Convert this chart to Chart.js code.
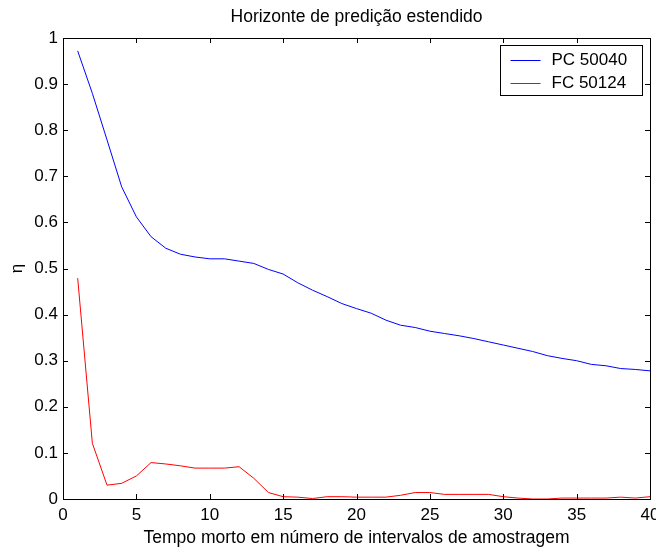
<!DOCTYPE html>
<html>
<head>
<meta charset="utf-8">
<script src="https://cdn.jsdelivr.net/npm/chart.js@4"></script>
<style>
  body { margin: 0; background: #fff; }
  #wrap { width: 656px; height: 549px; }
</style>
</head>
<body>
<div id="wrap"><canvas id="chart"></canvas></div>
<script>
// Dados
const delays = [1, 2, 3, 4, 5, 6, 7, 8, 9, 10, 11, 12, 13, 14, 15, 16, 17, 18, 19, 20,
  21, 22, 23, 24, 25, 26, 27, 28, 29, 30, 31, 32, 33, 34, 35, 36, 37, 38, 39, 40];
const pc50040 = [0.972, 0.880, 0.779, 0.677, 0.612, 0.569, 0.544, 0.531, 0.525, 0.521,
  0.521, 0.516, 0.511, 0.498, 0.488, 0.469, 0.453, 0.439, 0.424, 0.413,
  0.403, 0.388, 0.377, 0.372, 0.364, 0.359, 0.354, 0.348, 0.341, 0.334,
  0.327, 0.320, 0.311, 0.305, 0.300, 0.292, 0.289, 0.283, 0.281, 0.278];
const fc50124 = [0.479, 0.121, 0.030, 0.034, 0.050, 0.079, 0.076, 0.072, 0.067, 0.067,
  0.067, 0.070, 0.045, 0.014, 0.005, 0.004, 0.001, 0.005, 0.005, 0.004,
  0.004, 0.004, 0.008, 0.014, 0.014, 0.010, 0.010, 0.010, 0.010, 0.005,
  0.002, 0.000, 0.000, 0.002, 0.002, 0.002, 0.002, 0.004, 0.002, 0.005];
const seriesNames = ["PC 50040", "FC 50124"];
const seriesColors = ["#0000ff", "#ff0000"];
const chartTitle = "Horizonte de predição estendido";

const FONT = "'Liberation Sans', Arial, sans-serif";

// moldura, marcas para dentro (estilo MATLAB), titulo e legenda
const boxPlugin = {
  id: "box",
  afterDraw(chart) {
    const { ctx, chartArea: a, scales } = chart;
    ctx.save();
    ctx.strokeStyle = "#000";
    ctx.lineWidth = 1;
    ctx.beginPath();
    scales.x.ticks.forEach((t) => {
      const px = Math.round(scales.x.getPixelForValue(t.value)) + 0.5;
      ctx.moveTo(px, a.bottom); ctx.lineTo(px, a.bottom - 5);
      ctx.moveTo(px, a.top); ctx.lineTo(px, a.top + 5);
    });
    scales.y.ticks.forEach((t) => {
      const py = Math.round(scales.y.getPixelForValue(t.value)) + 0.5;
      ctx.moveTo(a.left, py); ctx.lineTo(a.left + 5, py);
      ctx.moveTo(a.right, py); ctx.lineTo(a.right - 5, py);
    });
    ctx.stroke();
    ctx.strokeRect(Math.round(a.left) + 0.5, Math.round(a.top) + 0.5,
      Math.round(a.right - a.left), Math.round(a.bottom - a.top));

    // titulo centrado sobre os eixos
    ctx.fillStyle = "#000";
    ctx.font = "17.5px " + FONT;
    ctx.textAlign = "center";
    ctx.textBaseline = "middle";
    ctx.fillText(chartTitle, (a.left + a.right) / 2, 17);

    // legenda
    const bx = 500.5, by = 45.5, bw = 142, bh = 50;
    ctx.fillStyle = "#fff";
    ctx.fillRect(bx, by, bw, bh);
    ctx.strokeRect(bx, by, bw, bh);
    ctx.font = "17px " + FONT;
    ctx.textAlign = "left";
    chart.data.datasets.forEach((ds, i) => {
      const ly = Math.round(by + 14 + i * 23) + 0.5;
      ctx.strokeStyle = ds.borderColor;
      ctx.beginPath();
      ctx.moveTo(bx + 10, ly); ctx.lineTo(bx + 40, ly);
      ctx.stroke();
      ctx.fillStyle = "#000";
      ctx.fillText(ds.label, bx + 51, ly);
    });
    ctx.restore();
  },
};

new Chart(document.getElementById("chart"), {
  type: "line",
  data: {
    labels: delays,
    datasets: [
      {
        label: seriesNames[0],
        data: delays.map((d, i) => ({ x: d, y: pc50040[i] })),
        borderColor: seriesColors[0],
        borderWidth: 1,
        pointRadius: 0,
        tension: 0,
      },
      {
        label: seriesNames[1],
        data: delays.map((d, i) => ({ x: d, y: fc50124[i] })),
        borderColor: seriesColors[1],
        borderWidth: 1,
        pointRadius: 0,
        tension: 0,
      },
    ],
  },
  options: {
    responsive: true,
    maintainAspectRatio: false,
    animation: false,
    layout: { padding: { left: 0, right: 6, top: 38, bottom: 0 } },
    plugins: {
      legend: { display: false },
      tooltip: { enabled: false },
      title: { display: false },
    },
    scales: {
      x: {
        type: "linear",
        min: 0,
        max: 40,
        grid: { display: false, drawTicks: false },
        border: { display: false },
        ticks: {
          stepSize: 5,
          padding: 6,
          color: "#000",
          maxRotation: 0,
          autoSkip: false,
          font: { family: FONT, size: 17 },
        },
        title: {
          display: true,
          text: "Tempo morto em número de intervalos de amostragem",
          color: "#000",
          font: { family: FONT, size: 17.5 },
          padding: { top: 0, bottom: 0 },
        },
        afterFit(s) {
          s.height = 50;
          s.paddingLeft = 0;
          s.paddingRight = 0;
        },
      },
      y: {
        min: 0,
        max: 1,
        grid: { display: false, drawTicks: false },
        border: { display: false },
        ticks: {
          stepSize: 0.1,
          padding: 5,
          color: "#000",
          font: { family: FONT, size: 17 },
          callback: (v) => String(+v.toFixed(1)),
        },
        title: {
          display: true,
          text: "η",
          color: "#000",
          font: { family: FONT, size: 17 },
          padding: { top: 7, bottom: 0 },
        },
        afterFit(s) {
          s.width = 63;
          s.paddingTop = 0;
          s.paddingBottom = 0;
        },
      },
    },
  },
  plugins: [boxPlugin],
});
</script>
</body>
</html>
